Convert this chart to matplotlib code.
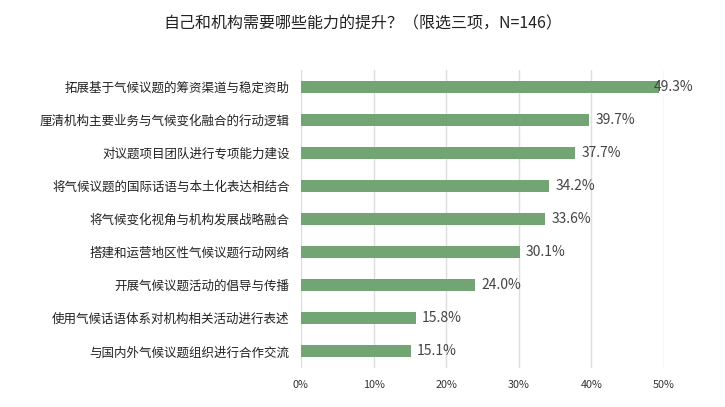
import matplotlib
matplotlib.use("Agg")
import matplotlib.pyplot as plt
import numpy as np

plt.rcParams['font.family'] = ['Noto Sans CJK SC', 'DejaVu Sans']

# 数据
categories = [
    "拓展基于气候议题的筹资渠道与稳定资助",
    "厘清机构主要业务与气候变化融合的行动逻辑",
    "对议题项目团队进行专项能力建设",
    "将气候议题的国际话语与本土化表达相结合",
    "将气候变化视角与机构发展战略融合",
    "搭建和运营地区性气候议题行动网络",
    "开展气候议题活动的倡导与传播",
    "使用气候话语体系对机构相关活动进行表述",
    "与国内外气候议题组织进行合作交流",
]
values = [49.3, 39.7, 37.7, 34.2, 33.6, 30.1, 24.0, 15.8, 15.1]
xticks = [0, 10, 20, 30, 40, 50]
xtick_labels = ["0%", "10%", "20%", "30%", "40%", "50%"]

fig = plt.figure(figsize=(7.25, 4.07), dpi=100)
ax = fig.add_axes([0.415, 0.096, 0.501, 0.732])

y = np.arange(len(categories))
bars = ax.barh(y, values, height=0.36, color="#73a574", zorder=2)
for rect, v in zip(bars, values):
    # 最长的标签挤进图内，与柱末端重叠
    lx = min(v + 0.9, 48.6)
    ax.text(lx, rect.get_y() + rect.get_height() / 2, "{:.1f}%".format(v),
            va="center", ha="left", fontsize=10, color="#444444", zorder=3)

ax.set_xlim(0, 50)
ax.set_ylim(len(categories) - 0.5, -0.5)
ax.set_yticks(y)
ax.set_yticklabels(categories, fontsize=9, color="#222222")
ax.set_xticks(xticks)
ax.set_xticklabels(xtick_labels, fontsize=7.8, color="#333333")
ax.tick_params(length=0)
ax.tick_params(axis="x", pad=9)
ax.tick_params(axis="y", pad=8)
ax.grid(axis="x", color="#dddddd", linewidth=1, zorder=0)
for s in ax.spines.values():
    s.set_visible(False)

fig.text(0.5, 0.94, "自己和机构需要哪些能力的提升？（限选三项，N=146）",
         ha="center", va="center", fontsize=11.5, color="#222222")

fig.savefig("out.png", dpi=100)
